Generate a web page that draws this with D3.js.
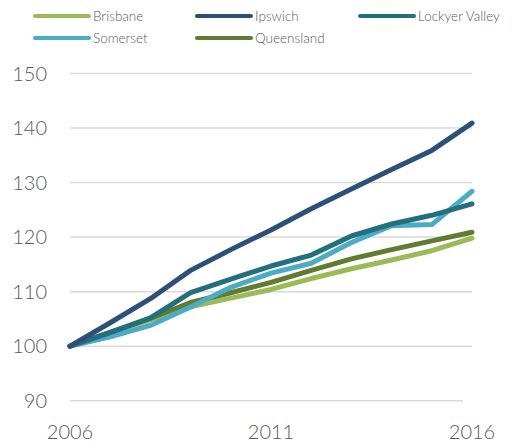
<!DOCTYPE html>
<html><head><meta charset="utf-8">
<script src="https://cdn.jsdelivr.net/npm/d3@7"></script>
<style>body{margin:0;background:#fff}svg{display:block}</style>
</head><body>
<svg id="c" width="512" height="445"></svg>
<script>
const years = [2006,2007,2008,2009,2010,2011,2012,2013,2014,2015,2016];
const brisbane   = [100,102.4,104.8,107.2,108.8,110.4,112.4,114.2,115.8,117.5,119.8];
const ipswich    = [100,104.3,108.7,113.9,117.7,121.3,125.2,128.8,132.4,135.9,140.9];
const lockyer    = [100,102.5,105.2,109.8,112.3,114.7,116.7,120.2,122.4,124.0,126.1];
const somerset   = [100,101.7,103.8,107.2,110.8,113.4,115.2,119.0,122.1,122.3,128.4];
const queensland = [100,102.6,105.1,108.0,109.8,111.7,113.9,116.0,117.7,119.3,120.9];
const seriesNames = ["Brisbane","Ipswich","Lockyer Valley","Somerset","Queensland"];
const seriesColors = ["#9BBB59","#2C5079","#246F7E","#4BACC6","#617B31"];
const yTicks = [90,100,110,120,130,140,150];
const xTicks = [2006,2011,2016];

const seriesData = [brisbane, ipswich, lockyer, somerset, queensland];
const svg = d3.select("#c");
const font = "Lato, 'Open Sans', sans-serif";

const x = d3.scaleLinear().domain([2006,2016]).range([70,472]);
const y = d3.scaleLinear().domain([90,150]).range([400.7,73.5]);

// gridlines
svg.append("g").selectAll("line").data(yTicks).join("line")
  .attr("x1",70).attr("x2",d=> d===90 ? 463 : 472)
  .attr("y1",d=>y(d)).attr("y2",d=>y(d))
  .attr("stroke","#D9D9D9").attr("stroke-width",1.5);

// y labels
svg.append("g").selectAll("text").data(yTicks).join("text")
  .attr("x",47).attr("y",d=>y(d)).attr("dy","0.35em")
  .attr("text-anchor","end").attr("font-family",font).attr("font-size",20).attr("font-weight",300)
  .attr("fill","#595959").text(d=>d);

// x labels
svg.append("g").selectAll("text").data(xTicks).join("text")
  .attr("x",d=>x(d)).attr("y",432).attr("dy","0.35em")
  .attr("text-anchor","middle").attr("font-family",font).attr("font-size",20).attr("font-weight",300)
  .attr("fill","#595959").text(d=>d);

const order = [0,4,3,2,1];
const line = d3.line().x((d,i)=>x(years[i])).y(d=>y(d));
svg.append("g").selectAll("path").data(order).join("path")
  .attr("d",k=>line(seriesData[k]))
  .attr("fill","none").attr("stroke",k=>seriesColors[k])
  .attr("stroke-width",5).attr("stroke-linejoin","round").attr("stroke-linecap","round");

// legend
const legPos = [[35,16],[197,16],[360,16],[35,38],[197,38]];
const lg = svg.append("g");
seriesNames.forEach((n,i)=>{
  const [lx,ly] = legPos[i];
  lg.append("line").attr("x1",lx).attr("x2",lx+54).attr("y1",ly).attr("y2",ly)
    .attr("stroke",seriesColors[i]).attr("stroke-width",4).attr("stroke-linecap","round");
  lg.append("text").attr("x",lx+58).attr("y",ly).attr("dy","0.35em")
    .attr("font-family",font).attr("font-size",13.5).attr("font-weight",300).attr("fill","#595959").text(n);
});
</script>
</body></html>
